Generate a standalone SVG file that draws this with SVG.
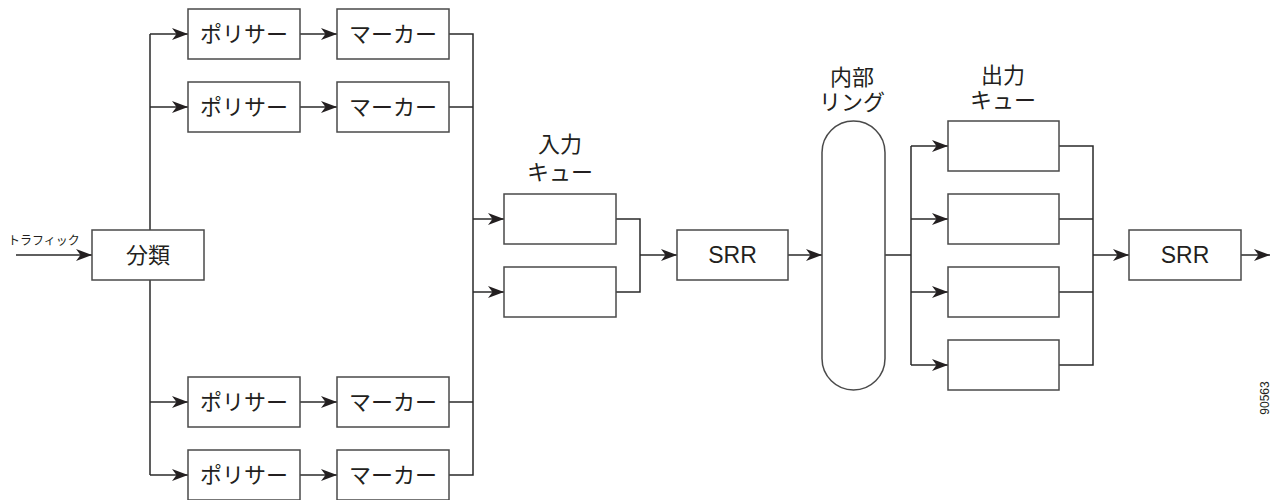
<svg xmlns="http://www.w3.org/2000/svg" width="1271" height="500" viewBox="0 0 1271 500">
<style>
.box{fill:#fff;stroke:#4a4a4a;stroke-width:1.5}
.ln{fill:none;stroke:#2a2a2a;stroke-width:1.5}
.ar{marker-end:url(#ah)}
.jp{font-family:"Noto Sans CJK JP","Noto Sans",sans-serif;font-size:22px;fill:#231f20;text-anchor:middle}
.en{font-family:"Liberation Sans",Arial,sans-serif;font-size:23px;fill:#231f20;text-anchor:middle}
.sm{font-family:"Noto Sans CJK JP","Noto Sans",sans-serif;font-size:12px;fill:#231f20}
</style>
<defs>
<marker id="ah" viewBox="0 0 16 12" refX="16" refY="6" markerWidth="16" markerHeight="12" markerUnits="userSpaceOnUse" orient="auto">
<path d="M0,0 L16,6 L0,12 L4.5,6 Z" fill="#231f20"/>
</marker>
</defs>
<rect width="1271" height="500" fill="#fff"/>
<g id="connectors">
<line class="ln ar" x1="16" y1="255" x2="92" y2="255"/>
<line class="ln" x1="150" y1="230" x2="150" y2="34"/>
<line class="ln" x1="150" y1="280" x2="150" y2="475"/>
<path class="ln ar" d="M150,34 H188"/>
<path class="ln ar" d="M150,107 H188"/>
<path class="ln ar" d="M150,402 H188"/>
<path class="ln ar" d="M150,475 H188"/>
<path class="ln ar" d="M300,34 H337"/>
<path class="ln ar" d="M300,107 H337"/>
<path class="ln ar" d="M300,402 H337"/>
<path class="ln ar" d="M300,475 H337"/>
<path class="ln" d="M449,34 H473 V475 H449"/>
<path class="ln" d="M449,107 H473"/>
<path class="ln" d="M449,402 H473"/>
<path class="ln ar" d="M473,219 H504"/>
<path class="ln ar" d="M473,292 H504"/>
<path class="ln" d="M616,219 H640 V292 H616"/>
<path class="ln ar" d="M640,255 H677"/>
<path class="ln ar" d="M788,255 H822"/>
<path class="ln" d="M885,255 H911"/>
<path class="ln" d="M911,146 V365"/>
<path class="ln ar" d="M911,146 H948"/>
<path class="ln ar" d="M911,219 H948"/>
<path class="ln ar" d="M911,292 H948"/>
<path class="ln ar" d="M911,365 H948"/>
<path class="ln" d="M1059,146 H1093 V365 H1059"/>
<path class="ln" d="M1059,219 H1093"/>
<path class="ln" d="M1059,292 H1093"/>
<path class="ln ar" d="M1093,255 H1129"/>
<path class="ln ar" d="M1241,255 H1270"/>
</g>
<g id="traffic-label"><text class="sm" x="8" y="245">トラフィック</text></g>
<g id="classifier"><rect class="box" x="92" y="230" width="112" height="50"/><text class="jp" x="148" y="263">分類</text></g>
<g id="policer1"><rect class="box" x="188" y="9" width="112" height="50"/><text class="jp" x="244" y="42">ポリサー</text></g>
<g id="marker1"><rect class="box" x="337" y="9" width="112" height="50"/><text class="jp" x="393" y="42">マーカー</text></g>
<g id="policer2"><rect class="box" x="188" y="82" width="112" height="50"/><text class="jp" x="244" y="115">ポリサー</text></g>
<g id="marker2"><rect class="box" x="337" y="82" width="112" height="50"/><text class="jp" x="393" y="115">マーカー</text></g>
<g id="policer3"><rect class="box" x="188" y="377" width="112" height="50"/><text class="jp" x="244" y="410">ポリサー</text></g>
<g id="marker3"><rect class="box" x="337" y="377" width="112" height="50"/><text class="jp" x="393" y="410">マーカー</text></g>
<g id="policer4"><rect class="box" x="188" y="450" width="112" height="50"/><text class="jp" x="244" y="483">ポリサー</text></g>
<g id="marker4"><rect class="box" x="337" y="450" width="112" height="50"/><text class="jp" x="393" y="483">マーカー</text></g>
<g id="input-queue-label"><text class="jp" x="560" y="152">入力<tspan x="560" dy="28">キュー</tspan></text></g>
<g id="input-queue1"><rect class="box" x="504" y="194" width="112" height="50"/></g>
<g id="input-queue2"><rect class="box" x="504" y="267" width="112" height="50"/></g>
<g id="srr1"><rect class="box" x="677" y="230" width="111" height="50"/><text class="en" x="732.5" y="263">SRR</text></g>
<g id="internal-ring"><rect class="box" x="822" y="121" width="63" height="269" rx="31.5" ry="31.5"/><text class="jp" x="852" y="85">内部<tspan x="852" dy="25">リング</tspan></text></g>
<g id="output-queue-label"><text class="jp" x="1003" y="83">出力<tspan x="1003" dy="25">キュー</tspan></text></g>
<g id="output-queue1"><rect class="box" x="948" y="121" width="111" height="50"/></g>
<g id="output-queue2"><rect class="box" x="948" y="194" width="111" height="50"/></g>
<g id="output-queue3"><rect class="box" x="948" y="267" width="111" height="50"/></g>
<g id="output-queue4"><rect class="box" x="948" y="340" width="111" height="50"/></g>
<g id="srr2"><rect class="box" x="1129" y="230" width="112" height="50"/><text class="en" x="1185" y="263">SRR</text></g>
<g id="figure-id"><text font-family="'Liberation Sans',Arial,sans-serif" font-size="12" fill="#231f20" text-anchor="middle" transform="translate(1269,398) rotate(-90)">90563</text></g>
</svg>
